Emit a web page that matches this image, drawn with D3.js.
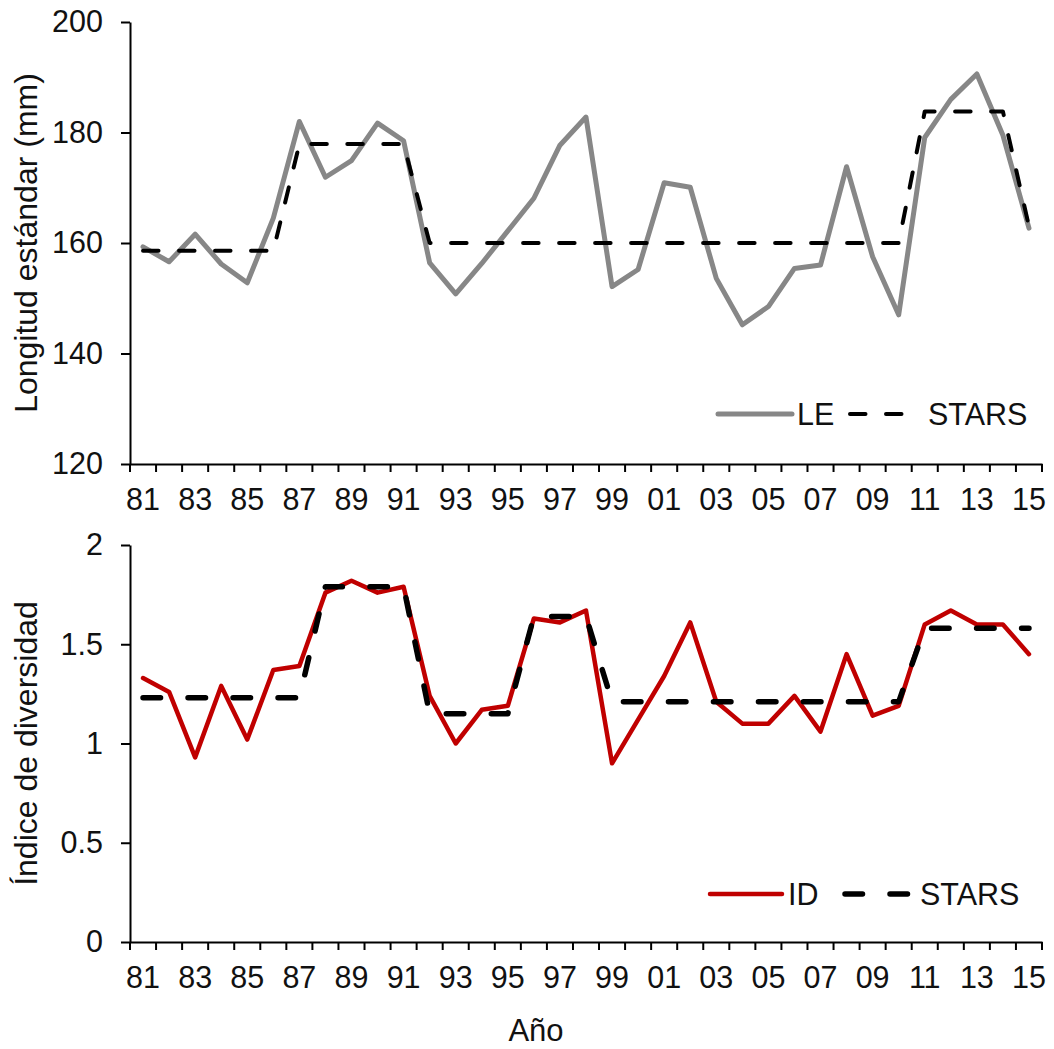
<!DOCTYPE html>
<html>
<head>
<meta charset="utf-8">
<script src="https://cdn.jsdelivr.net/npm/d3@7"></script>
<style>
    body { margin: 0; background: #fff; }
    svg text { font-family: "Liberation Sans", Arial, sans-serif; fill: #111; }
</style>
</head>
<body>
<div class="chart"></div>
<script>
"use strict";

var years = ["81", "82", "83", "84", "85", "86", "87", "88", "89", "90",
             "91", "92", "93", "94", "95", "96", "97", "98", "99", "00",
             "01", "02", "03", "04", "05", "06", "07", "08", "09", "10",
             "11", "12", "13", "14", "15"];

// longitud estandar (mm)
var leValues = [159.3, 156.6, 161.6, 156.2, 152.8, 164.5, 182.0, 171.9, 174.9, 181.7,
                178.5, 156.4, 150.8, 156.3, 162.2, 168.1, 177.7, 182.8, 152.1, 155.2,
                170.9, 170.1, 153.6, 145.2, 148.5, 155.4, 156.0, 173.8, 157.5, 147.0,
                179.1, 186.0, 190.6, 179.5, 162.7];
var leStars = [158.6, 158.6, 158.6, 158.6, 158.6, 158.6, 177.9, 177.9, 177.9, 177.9,
               177.9, 160.0, 160.0, 160.0, 160.0, 160.0, 160.0, 160.0, 160.0, 160.0,
               160.0, 160.0, 160.0, 160.0, 160.0, 160.0, 160.0, 160.0, 160.0, 160.0,
               183.8, 183.8, 183.8, 183.8, 163.0];

// indice de diversidad
var idValues = [1.33, 1.26, 0.93, 1.29, 1.02, 1.37, 1.39, 1.76, 1.82, 1.76,
                1.79, 1.24, 1.00, 1.17, 1.19, 1.63, 1.61, 1.67, 0.90, 1.12,
                1.34, 1.61, 1.21, 1.10, 1.10, 1.24, 1.06, 1.45, 1.14, 1.19,
                1.60, 1.67, 1.60, 1.60, 1.45];
var idStars = [1.23, 1.23, 1.23, 1.23, 1.23, 1.23, 1.23, 1.79, 1.79, 1.79,
               1.79, 1.15, 1.15, 1.15, 1.15, 1.64, 1.64, 1.64, 1.21, 1.21,
               1.21, 1.21, 1.21, 1.21, 1.21, 1.21, 1.21, 1.21, 1.21, 1.21,
               1.58, 1.58, 1.58, 1.58, 1.58];

var topTicks = [120, 140, 160, 180, 200];
var bottomTicks = [0, 0.5, 1, 1.5, 2];

var tickFont = 30.5;
var titleFont = 32;

var svg = d3.select(".chart")
            .append("svg")
            .attr("width", 1054)
            .attr("height", 1049);

var x = d3.scaleBand()
          .domain(years)
          .range([130, 1042]);

var panels = [
    {
        y: d3.scaleLinear().domain([120, 200]).range([464, 22]),
        ticks: topTicks,
        format: d3.format("d"),
        title: "Longitud estándar (mm)",
        values: leValues, stars: leStars,
        color: "#878787", width: 5,
        dash: "15.5,20.5", dashWidth: 4,
        legendName: "LE",
        legend: { y: 414, line: [718, 792], text: 797, dashes: [850, 904], stars: 928 }
    },
    {
        y: d3.scaleLinear().domain([0, 2]).range([942, 545]),
        ticks: bottomTicks,
        format: function(d) { return String(d); },
        title: "Índice de diversidad",
        values: idValues, stars: idStars,
        color: "#c00000", width: 4.5,
        dash: "17.5,27.5", dashWidth: 5.5,
        legendName: "ID",
        legend: { y: 894, line: [710, 782], text: 788, dashes: [845, 911], stars: 920 }
    }
];

panels.forEach(function(p) {
    var g = svg.append("g");
    var y = p.y;
    var base = y.range()[0];
    var cx = function(d, i) { return x(years[i]) + x.bandwidth() / 2; };

    // y axis
    var yAxis = g.append("g")
        .attr("transform", "translate(130,0)")
        .call(d3.axisLeft(y).tickValues(p.ticks).tickFormat(p.format)
              .tickSizeInner(9).tickSizeOuter(0).tickPadding(18));
    yAxis.select(".domain").attr("stroke", "#000").attr("stroke-width", 2);
    yAxis.selectAll(".tick line").attr("stroke", "#000").attr("stroke-width", 2);
    yAxis.selectAll("text").attr("font-size", tickFont).attr("fill", "#111")
        .attr("font-family", "Liberation Sans, Arial, sans-serif");

    // x axis: labels every other year, ticks at band edges
    var xAxis = g.append("g")
        .attr("transform", "translate(0," + base + ")")
        .call(d3.axisBottom(x)
              .tickFormat(function(d, i) { return i % 2 === 0 ? d : ""; })
              .tickSize(0).tickPadding(24));
    xAxis.select(".domain").attr("stroke", "#000").attr("stroke-width", 2);
    xAxis.selectAll("text").attr("font-size", tickFont).attr("fill", "#111")
        .attr("font-family", "Liberation Sans, Arial, sans-serif");

    var edges = years.map(function(d) { return x(d); }).concat([x.range()[1]]);
    g.selectAll(".edge")
        .data(edges)
        .enter().append("line")
        .attr("class", "edge")
        .attr("x1", function(d) { return d; })
        .attr("x2", function(d) { return d; })
        .attr("y1", base)
        .attr("y2", base + 8)
        .attr("stroke", "#000")
        .attr("stroke-width", 2);

    // axis title
    g.append("text")
        .attr("transform", "translate(37," + ((y.range()[0] + y.range()[1]) / 2) + ") rotate(-90)")
        .attr("text-anchor", "middle")
        .attr("font-size", titleFont)
        .text(p.title);

    var line = d3.line()
        .x(cx)
        .y(function(d) { return y(d); });

    g.append("path")
        .datum(p.values)
        .attr("d", line)
        .attr("fill", "none")
        .attr("stroke", p.color)
        .attr("stroke-width", p.width)
        .attr("stroke-linejoin", "round")
        .attr("stroke-linecap", "round");

    g.append("path")
        .datum(p.stars)
        .attr("d", line)
        .attr("fill", "none")
        .attr("stroke", "#000")
        .attr("stroke-width", p.dashWidth)
        .attr("stroke-dasharray", p.dash)
        .attr("stroke-linejoin", "round")
        .attr("stroke-linecap", "round");

    // legend
    var lg = p.legend;
    g.append("line")
        .attr("x1", lg.line[0]).attr("x2", lg.line[1])
        .attr("y1", lg.y).attr("y2", lg.y)
        .attr("stroke", p.color)
        .attr("stroke-width", p.width)
        .attr("stroke-linecap", "round");
    g.append("text")
        .attr("x", lg.text).attr("y", lg.y + 11)
        .attr("font-size", tickFont)
        .text(p.legendName);
    g.append("line")
        .attr("x1", lg.dashes[0]).attr("x2", lg.dashes[1])
        .attr("y1", lg.y).attr("y2", lg.y)
        .attr("stroke", "#000")
        .attr("stroke-width", p.dashWidth)
        .attr("stroke-dasharray", p.dash)
        .attr("stroke-linecap", "round");
    g.append("text")
        .attr("x", lg.stars).attr("y", lg.y + 11)
        .attr("font-size", tickFont)
        .text("STARS");
});

svg.append("text")
    .attr("x", 536)
    .attr("y", 1041)
    .attr("text-anchor", "middle")
    .attr("font-size", 31)
    .text("Año");
</script>
</body>
</html>
